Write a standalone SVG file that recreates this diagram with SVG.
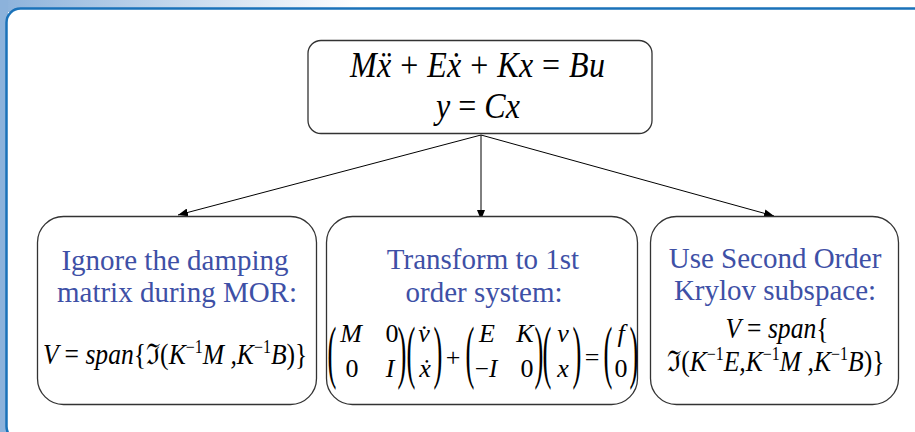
<svg xmlns="http://www.w3.org/2000/svg" width="915" height="432" viewBox="0 0 915 432">
<defs>
<linearGradient id="topg" gradientUnits="userSpaceOnUse" x1="0" y1="0" x2="360" y2="0">
<stop offset="0" stop-color="#8cb2db"/><stop offset="1" stop-color="#ffffff"/>
</linearGradient>
<marker id="ah" viewBox="0 0 10 8" refX="10" refY="4" markerWidth="10" markerHeight="8" markerUnits="userSpaceOnUse" orient="auto">
<path d="M0,0 L10,4 L0,8 Z" fill="#000"/>
</marker>
<style>
.box{fill:#fff;stroke:#333;stroke-width:1.3}
.blue{font-family:'Liberation Serif','Times New Roman',serif;font-size:29px;fill:#3e50a6;text-anchor:middle}
.mi{font-family:'Liberation Serif','DejaVu Serif',serif;font-style:italic;fill:#000}
.up{font-family:'Liberation Serif','DejaVu Serif',serif;font-style:normal}
.mx{font-family:'Liberation Serif','DejaVu Serif',serif;font-size:26px;fill:#000;text-anchor:middle}
.par{font-family:'Liberation Serif',serif;font-size:70px;fill:#000;text-anchor:middle}
.con{stroke:#000;stroke-width:1;fill:none;marker-end:url(#ah)}
</style>
</defs>
<rect x="0" y="0" width="915" height="12" fill="url(#topg)"/>
<rect x="0" y="0" width="8" height="432" fill="#8cb2db"/>
<rect x="6.5" y="8.5" width="950" height="432" rx="14" fill="#fff" stroke="#1a72b9" stroke-width="2.5"/>

<g id="connectors">
<line class="con" x1="481" y1="135" x2="178" y2="215"/>
<line class="con" x1="481" y1="135" x2="481" y2="220"/>
<line class="con" x1="481" y1="135" x2="774" y2="216"/>
</g>

<g id="top">
<rect class="box" x="308" y="40.5" width="344" height="93" rx="13"/>
<text class="mi" transform="translate(350,77) scale(1,1.15)" font-size="32" textLength="255">M<tspan>x&#776;</tspan> <tspan class="up">+</tspan> E<tspan>x&#775;</tspan> <tspan class="up">+</tspan> Kx <tspan class="up">=</tspan> Bu</text>
<text class="mi" transform="translate(478,118) scale(1,1.15)" font-size="32" text-anchor="middle">y <tspan class="up">=</tspan> Cx</text>
</g>

<g id="left">
<rect class="box" x="37.5" y="216.5" width="279" height="188" rx="26"/>
<text class="blue" x="175" y="270">Ignore the damping</text>
<text class="blue" x="177" y="302">matrix during MOR:</text>
<text class="mi" transform="translate(43,364) scale(1,1.12)" font-size="25.6">V <tspan class="up">=</tspan> span<tspan class="up">{&#8465;(</tspan>K<tspan class="up" font-size="16" dy="-10">&#8722;1</tspan><tspan dy="10">M ,K</tspan><tspan class="up" font-size="16" dy="-10">&#8722;1</tspan><tspan dy="10">B</tspan><tspan class="up">)}</tspan></text>
</g>

<g id="middle">
<rect class="box" x="326.5" y="216.5" width="311" height="188" rx="26"/>
<text class="blue" x="483" y="269">Transform to 1st</text>
<text class="blue" x="484" y="302">order system:</text>
<g class="par">
<text transform="translate(332,375) scale(0.38,1)">(</text>
<text transform="translate(402,375) scale(0.38,1)">)</text>
<text transform="translate(411,375) scale(0.38,1)">(</text>
<text transform="translate(438,375) scale(0.38,1)">)</text>
<text transform="translate(470,375) scale(0.38,1)">(</text>
<text transform="translate(539,375) scale(0.38,1)">)</text>
<text transform="translate(547,375) scale(0.38,1)">(</text>
<text transform="translate(577,375) scale(0.38,1)">)</text>
<text transform="translate(608,375) scale(0.38,1)">(</text>
<text transform="translate(634,375) scale(0.38,1)">)</text>
</g>
<g class="mx">
<text x="351" y="342" font-style="italic">M</text>
<text x="392" y="342">0</text>
<text x="352" y="377">0</text>
<text x="390" y="377" font-style="italic">I</text>
<text x="424" y="342" font-style="italic">v&#775;</text>
<text x="425" y="377" font-style="italic">x&#775;</text>
<text x="453" y="366">+</text>
<text x="487" y="342" font-style="italic">E</text>
<text x="525" y="342" font-style="italic">K</text>
<text x="486" y="377" font-size="25">&#8722;<tspan font-style="italic">I</tspan></text>
<text x="527" y="377">0</text>
<text x="563" y="342" font-style="italic">v</text>
<text x="563" y="377" font-style="italic">x</text>
<text x="592" y="366">=</text>
<text x="621" y="342" font-style="italic">f</text>
<text x="621" y="377">0</text>
</g>
</g>

<g id="right">
<rect class="box" x="650.5" y="216.5" width="248" height="188" rx="26"/>
<text class="blue" x="775" y="268">Use Second Order</text>
<text class="blue" x="775" y="300">Krylov subspace:</text>
<text class="mi" transform="translate(777,338) scale(1,1.12)" font-size="25.6" text-anchor="middle">V <tspan class="up">=</tspan> span<tspan class="up">{</tspan></text>
<text class="mi" transform="translate(667,371) scale(1,1.12)" font-size="25.6"><tspan class="up">&#8465;(</tspan>K<tspan class="up" font-size="16" dy="-10">&#8722;1</tspan><tspan dy="10">E,K</tspan><tspan class="up" font-size="16" dy="-10">&#8722;1</tspan><tspan dy="10">M ,K</tspan><tspan class="up" font-size="16" dy="-10">&#8722;1</tspan><tspan dy="10">B</tspan><tspan class="up">)}</tspan></text>
</g>
</svg>
